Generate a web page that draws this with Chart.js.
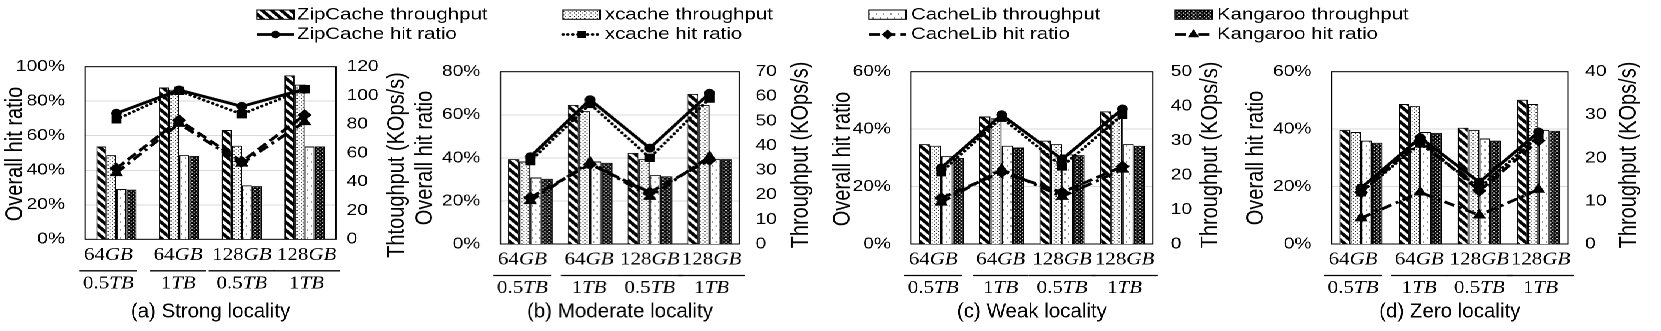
<!DOCTYPE html>
<html>
<head>
<meta charset="utf-8">
<script src="https://cdn.jsdelivr.net/npm/chart.js@4.4.1/dist/chart.umd.min.js"></script>
<style>
  html, body { margin: 0; padding: 0; background: #fff; overflow: hidden; }
  /* the source figure is stretched sideways, so draw narrow and scale up */
  #stage { position: absolute; left: 0; top: 0; width: 1385px; height: 331px; transform: scaleX(1.2); transform-origin: 0 0; }
  #stage canvas#legend { position: absolute; left: 0; top: 0; }
  .panel { position: absolute; }
</style>
</head>
<body>
<div id="stage">
  <canvas id="legend"></canvas>
</div>
<script>
const S = 1.2;
const TOP = 40;

const seriesNames = ['ZipCache', 'xcache', 'CacheLib', 'Kangaroo'];
const sizeTop = ['64GB', '64GB', '128GB', '128GB'];
const sizeBottom = ['0.5TB', '1TB', '0.5TB', '1TB'];
const captions = ['(a) Strong locality', '(b) Moderate locality', '(c) Weak locality', '(d) Zero locality'];
const hitTitles = ['Overall hit ratio', 'Overall hit ratio', 'Overall hit ratio', 'Overall hit ratio'];
const tputTitles = ['Thtoughput (KOps/s)', 'Throughput (KOps/s)', 'Throughput (KOps/s)', 'Throughput (KOps/s)'];
const hitMax = [100, 80, 60, 60];
const tputMax = [120, 70, 50, 40];
const tputStep = [20, 10, 10, 10];

// throughput in KOps/s, one row per panel (a)..(d)
const tputZipcache = [
  [64.5, 105.5, 76, 114],
  [34.5, 56.5, 37, 61],
  [29, 37, 30, 38.5],
  [26.5, 32.5, 27, 33.5]
];
const tputXcache = [
  [58.5, 104, 65, 107.5],
  [33.5, 54, 34.5, 56.5],
  [28.5, 36.5, 29, 37.5],
  [26, 32, 26.5, 32.5]
];
const tputCachelib = [
  [35, 58.5, 37.5, 64.5],
  [27, 33.5, 28, 34.5],
  [25.5, 28.5, 26, 29],
  [24, 26, 24.5, 26.5]
];
const tputKangaroo = [
  [34.5, 58, 37, 64.5],
  [26.5, 33, 27.5, 34.5],
  [25, 28, 25.8, 28.5],
  [23.5, 25.8, 24, 26.3]
];

// overall hit ratio in %, one row per panel
const hitZipcache = [
  [73, 86.5, 77, 87],
  [40.5, 67, 44.5, 70],
  [26.5, 45, 29.5, 47],
  [19.5, 37, 21.5, 39]
];
const hitXcache = [
  [69.5, 86, 72.5, 87],
  [38.5, 65, 40, 67.5],
  [25, 44, 27, 45],
  [18, 35, 19.5, 37.5]
];
const hitCachelib = [
  [41, 69, 45, 72],
  [21.5, 37, 24, 39],
  [16, 25, 18, 27],
  [18, 36, 18.5, 36]
];
const hitKangaroo = [
  [38.5, 67, 44, 68],
  [20, 38, 22, 40.5],
  [14.5, 26, 16.5, 26],
  [9, 18, 10, 19]
];

const tputSets = [tputZipcache, tputXcache, tputCachelib, tputKangaroo];
const hitSets = [hitZipcache, hitXcache, hitCachelib, hitKangaroo];

// layout, in screen pixels of the 1661x331 picture
const panelBox = [
  { x0: 0,    x1: 412,  left: 85,     right: 336,    top: 66.7, bottom: 239.3, padR: 10.7, tlx: 15.7,   tly: 154, trx: 397,  try: 165, cat: 0.64 },
  { x0: 412,  x1: 822,  left: 500.7,  right: 739.3,  top: 71.7, bottom: 244,   padR: 16,   tlx: 426,    tly: 158, trx: 801,  try: 155, cat: 0.75 },
  { x0: 822,  x1: 1235, left: 911,    right: 1152.7, top: 71.7, bottom: 244,   padR: 18,   tlx: 842.7,  tly: 159, trx: 1211, try: 155, cat: 0.745 },
  { x0: 1235, x1: 1661, left: 1331.7, right: 1568.3, top: 71.7, bottom: 244,   padR: 17,   tlx: 1256.7, tly: 158, trx: 1629, try: 155, cat: 0.73 }
];
const labelShift = [-8, -1, 0, 2];
const legendX = [257, 563, 869, 1175];
const legendTextX = [297, 605, 911, 1217];

const dashes = [[], [0.1, 4], [9, 4], [9, 4, 2.5, 4]];
const caps = ['butt', 'round', 'butt', 'butt'];
const pointStyles = ['circle', 'rect', 'rectRot', 'triangle'];
const pointRadii = [4, 5.2, 5.2, 5.5];

Chart.defaults.font.family = '"Liberation Sans", Arial, sans-serif';
Chart.defaults.font.size = 16;
Chart.defaults.color = '#000';

function makePattern(kind) {
  const k = 2;
  const dims = { stripe: [8, 8], fine: [3.4, 3.4], sparse: [6, 8], dark: [3.4, 3.4] }[kind];
  const w = dims[0], h = dims[1];
  const c = document.createElement('canvas');
  c.width = Math.round(w * k); c.height = Math.round(h * k);
  const g = c.getContext('2d');
  g.scale(k, k);
  g.fillStyle = kind === 'dark' ? '#000' : '#fff';
  g.fillRect(0, 0, w, h);
  const dot = (x, y, r, col) => { g.fillStyle = col; g.beginPath(); g.arc(x, y, r, 0, Math.PI * 2); g.fill(); };
  if (kind === 'stripe') {
    g.strokeStyle = '#000';
    g.lineWidth = 3;
    for (let s = -1; s <= 1; s++) {
      g.beginPath();
      g.moveTo(s * w - 1, -1);
      g.lineTo(s * w + w + 1, h + 1);
      g.stroke();
    }
  } else if (kind === 'fine') {
    dot(0.85, 0.85, 0.5, '#000'); dot(2.55, 2.55, 0.5, '#000');
  } else if (kind === 'sparse') {
    dot(1.5, 2, 0.55, '#000'); dot(4.5, 6, 0.55, '#000');
  } else {
    dot(0.85, 0.85, 0.55, '#fff'); dot(2.55, 2.55, 0.55, '#fff');
  }
  const p = g.createPattern(c, 'repeat');
  p.setTransform(new DOMMatrix().scale(1 / k));
  return p;
}
const patterns = ['stripe', 'fine', 'sparse', 'dark'].map(makePattern);

// fraction labels: digits upright, letters italic
const fracSize = 17.5;
function runsOf(s) { return s.match(/[0-9.]+|[^0-9.]+/g); }
function runFont(r) { return (/[0-9.]/.test(r[0]) ? '' : 'italic ') + fracSize + 'px "Liberation Serif", serif'; }
function mixedWidth(ctx, s) {
  let w = 0;
  runsOf(s).forEach(r => { ctx.font = runFont(r); w += ctx.measureText(r).width; });
  return w;
}
function drawMixed(ctx, s, x, y) {
  runsOf(s).forEach(r => { ctx.font = runFont(r); ctx.fillText(r, x, y); x += ctx.measureText(r).width; });
}

function makeDecor(p) {
  const b = panelBox[p];
  return {
    id: 'decor',
    beforeDatasetsDraw(chart) {
      const a = chart.chartArea, ctx = chart.ctx;
      ctx.save();
      ctx.strokeStyle = '#000';
      ctx.lineWidth = 1;
      ctx.strokeRect(a.left, a.top, a.right - a.left, a.bottom - a.top);
      ctx.restore();
    },
    afterDraw(chart) {
      const ctx = chart.ctx, a = chart.chartArea, xs = chart.scales.x;
      ctx.save();
      ctx.fillStyle = '#000';
      ctx.strokeStyle = '#000';
      ctx.textBaseline = 'middle';
      ctx.textAlign = 'left';
      sizeTop.forEach((t, i) => {
        const cx = xs.getPixelForValue(i) + labelShift[i] / S;
        const wt = mixedWidth(ctx, t), wb = mixedWidth(ctx, sizeBottom[i]);
        drawMixed(ctx, t, cx - wt / 2, a.bottom + 16);
        drawMixed(ctx, sizeBottom[i], cx - wb / 2, a.bottom + 44.5);
        const half = Math.max(wt, wb) / 2 + 3;
        ctx.lineWidth = 1.3;
        ctx.beginPath();
        ctx.moveTo(cx - half, a.bottom + 31.5);
        ctx.lineTo(cx + half, a.bottom + 31.5);
        ctx.stroke();
      });
      // axis titles, both read bottom to top
      ctx.textAlign = 'center';
      ctx.font = '20px "Liberation Sans", Arial, sans-serif';
      [[hitTitles[p], b.tlx, b.tly], [tputTitles[p], b.trx, b.try]].forEach(([txt, X, Y]) => {
        ctx.save();
        ctx.translate((X - b.x0) / S, Y - TOP);
        ctx.rotate(-Math.PI / 2);
        ctx.fillText(txt, 0, 0);
        ctx.restore();
      });
      // caption is not stretched in the source
      ctx.font = '20.5px "Liberation Sans", Arial, sans-serif';
      ctx.translate((a.left + a.right) / 2, 311.7 - TOP);
      ctx.scale(1 / S, 1);
      ctx.fillText(captions[p], 0, 0);
      ctx.restore();
    }
  };
}

const stage = document.getElementById('stage');
panelBox.forEach((b, p) => {
  const div = document.createElement('div');
  div.className = 'panel';
  div.style.left = (b.x0 / S) + 'px';
  div.style.top = TOP + 'px';
  div.style.width = ((b.x1 - b.x0) / S) + 'px';
  div.style.height = (331 - TOP) + 'px';
  const cv = document.createElement('canvas');
  div.appendChild(cv);
  stage.appendChild(div);

  const datasets = [];
  seriesNames.forEach((name, s) => {
    datasets.push({
      type: 'line',
      label: name + ' hit ratio',
      data: hitSets[s][p],
      yAxisID: 'yL',
      borderColor: '#000',
      borderWidth: 2.8,
      borderDash: dashes[s],
      borderCapStyle: caps[s],
      pointStyle: pointStyles[s],
      pointRadius: pointRadii[s],
      pointBackgroundColor: '#000',
      pointBorderColor: '#000',
      pointBorderWidth: 1,
      tension: 0,
      fill: false,
      order: s
    });
  });
  seriesNames.forEach((name, s) => {
    datasets.push({
      type: 'bar',
      label: name + ' throughput',
      data: tputSets[s][p],
      yAxisID: 'yR',
      backgroundColor: patterns[s],
      borderColor: '#000',
      borderWidth: 1,
      categoryPercentage: b.cat,
      barPercentage: 1,
      order: 10
    });
  });

  new Chart(cv, {
    type: 'bar',
    data: { labels: sizeTop.map((t, i) => t + '/' + sizeBottom[i]), datasets },
    options: {
      responsive: true,
      maintainAspectRatio: false,
      devicePixelRatio: 2,
      animation: false,
      events: [],
      layout: { padding: { top: b.top - TOP, left: 0, right: 0, bottom: 0 } },
      plugins: { legend: { display: false }, tooltip: { enabled: false } },
      scales: {
        x: {
          type: 'category',
          offset: true,
          grid: { display: false },
          border: { display: false },
          ticks: { display: false },
          afterFit: s => { s.height = 331 - b.bottom; }
        },
        yL: {
          position: 'left',
          min: 0,
          max: hitMax[p],
          ticks: { stepSize: 20, padding: 20 / S, callback: v => v + '%' },
          grid: { color: '#d9d9d9', drawTicks: false },
          border: { display: false },
          afterFit: s => { s.width = (b.left - b.x0) / S; }
        },
        yR: {
          position: 'right',
          min: 0,
          max: tputMax[p],
          ticks: { stepSize: tputStep[p], padding: b.padR / S },
          grid: { display: false, drawTicks: false },
          border: { display: false },
          afterFit: s => { s.width = (b.x1 - b.right) / S; }
        }
      }
    },
    plugins: [makeDecor(p)]
  });
});

function drawLegend() {
  const cv = document.getElementById('legend');
  const w = 1385, h = 44, r = 2;
  cv.width = w * r; cv.height = h * r;
  cv.style.width = w + 'px'; cv.style.height = h + 'px';
  const ctx = cv.getContext('2d');
  ctx.scale(r, r);
  ctx.textBaseline = 'middle';
  ctx.font = '17px "Liberation Sans", Arial, sans-serif';
  seriesNames.forEach((name, i) => {
    const x = legendX[i] / S, tx = legendTextX[i] / S, sw = 37 / S;
    ctx.fillStyle = patterns[i];
    ctx.fillRect(x, 10, sw, 9.3);
    ctx.strokeStyle = '#000';
    ctx.lineWidth = 1;
    ctx.strokeRect(x, 10, sw, 9.3);
    ctx.fillStyle = '#000';
    ctx.fillText(name + ' throughput', tx, 14.7);

    ctx.save();
    ctx.setLineDash(dashes[i]);
    ctx.lineCap = caps[i];
    ctx.lineWidth = 2.8;
    ctx.beginPath();
    ctx.moveTo(x, 34.5);
    ctx.lineTo(x + sw, 34.5);
    ctx.stroke();
    ctx.restore();
    ctx.fillStyle = '#000';
    ctx.strokeStyle = '#000';
    Chart.helpers.drawPoint(ctx, { pointStyle: pointStyles[i], radius: pointRadii[i] * 0.8, borderWidth: 1, rotation: 0 }, x + sw / 2, 34.5);
    ctx.fillText(name + ' hit ratio', tx, 34.5);
  });
}
drawLegend();
</script>
</body>
</html>
